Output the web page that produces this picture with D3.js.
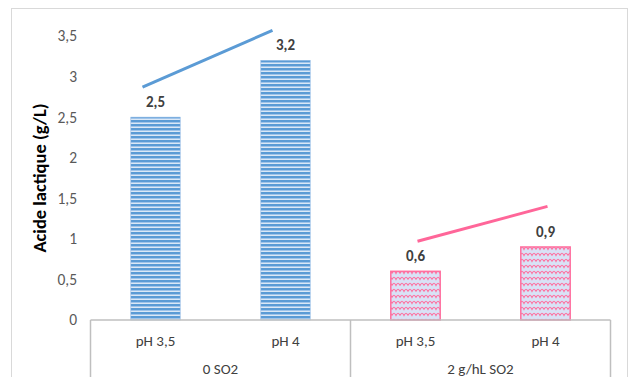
<!DOCTYPE html>
<html><head><meta charset="utf-8">
<script src="https://cdn.jsdelivr.net/npm/d3@7"></script>
<style>html,body{margin:0;padding:0;background:#fff;}svg{display:block;font-family:Carlito,Calibri,Lato,"Open Sans",sans-serif;}</style>
</head><body><svg id="c" width="630" height="377"></svg>
<script>
const groups = ["0 SO2", "2 g/hL SO2"];
const phLabels = ["pH 3,5", "pH 4"];
const values = [[2.5, 3.2], [0.6, 0.9]];
const valueLabels = [["2,5", "3,2"], ["0,6", "0,9"]];
const yTicks = [0, 0.5, 1, 1.5, 2, 2.5, 3, 3.5];
const yTickLabels = ["0", "0,5", "1", "1,5", "2", "2,5", "3", "3,5"];
const yTitle = "Acide lactique (g/L)";
// hand-drawn trend strokes above each group: start/end values
const trendStart = [2.87, 0.97];
const trendEnd = [3.57, 1.40];
const trendColors = ["#5b9bd5", "#ff6699"];

(function () {
const svg = d3.select("#c");
const W = 630, H = 377;
const pLeft = 90.5, pRight = 610.5, pTop = 36, pBottom = 320;

svg.append("rect").attr("x", 11.5).attr("y", 8.5).attr("width", 616).attr("height", 380)
  .attr("fill", "none").attr("stroke", "#d9d9d9").attr("stroke-width", 1);

const defs = svg.append("defs");
const p1 = defs.append("pattern").attr("id", "stripes").attr("patternUnits", "userSpaceOnUse")
  .attr("width", 8).attr("height", 4);
p1.append("rect").attr("width", 8).attr("height", 4).attr("fill", "#dbe8f6");
p1.append("rect").attr("y", 0).attr("width", 8).attr("height", 2).attr("fill", "#5b9bd5");
p1.append("rect").attr("y", 2).attr("width", 8).attr("height", 1).attr("fill", "#9fc4ea");
const p2 = defs.append("pattern").attr("id", "waves").attr("patternUnits", "userSpaceOnUse")
  .attr("width", 8).attr("height", 6);
p2.append("rect").attr("width", 8).attr("height", 6).attr("fill", "#d9e2f6");
p2.append("path").attr("d", "M0,3.5 C1.5,0.5 2.5,0.5 4,3.5 C5.5,0.5 6.5,0.5 8,3.5")
  .attr("fill", "none").attr("stroke", "#ff6f9f").attr("stroke-width", 1.1);

const ids = [];
groups.forEach((g, gi) => phLabels.forEach((p, pi) => ids.push(gi + "|" + pi)));
const x = d3.scaleBand().domain(ids).range([pLeft, pRight]).paddingInner(0.62).paddingOuter(0.31);
const y = d3.scaleLinear().domain([0, 3.5]).range([pBottom, pTop]);

const yAxis = d3.axisLeft(y).tickValues(yTicks).tickFormat((d, i) => yTickLabels[i]).tickSize(0).tickPadding(0);
const ya = svg.append("g").attr("transform", "translate(77,0)").call(yAxis);
ya.select(".domain").remove();
ya.selectAll("text").attr("fill", "#595959").attr("font-size", "15.5px").attr("font-family", "Carlito,Calibri,Lato,sans-serif");

svg.append("text").attr("transform", `translate(46,178) rotate(-90)`)
  .attr("text-anchor", "middle").attr("font-weight", "bold").attr("font-size", "18.5px")
  .attr("fill", "#000").text(yTitle);

const data = [];
groups.forEach((g, gi) => phLabels.forEach((p, pi) => data.push({id: gi + "|" + pi, gi, pi, v: values[gi][pi], lab: valueLabels[gi][pi]})));
svg.selectAll("rect.bar").data(data).enter().append("rect").attr("class", "bar")
  .attr("x", d => x(d.id)).attr("width", x.bandwidth())
  .attr("y", d => y(d.v)).attr("height", d => y(0) - y(d.v))
  .attr("fill", d => d.gi === 0 ? "url(#stripes)" : "url(#waves)")
  .attr("stroke", d => d.gi === 0 ? "#8fb8e4" : "#ff6f9f")
  .attr("stroke-width", d => d.gi === 0 ? 0.6 : 1.5);

svg.selectAll("text.val").data(data).enter().append("text").attr("class", "val")
  .attr("x", d => x(d.id) + x.bandwidth() / 2).attr("y", d => y(d.v) - 10)
  .attr("text-anchor", "middle").attr("font-weight", "bold").attr("font-size", "15px")
  .attr("fill", "#404040").text(d => d.lab);

const xOff = [[-13, -13], [2, 2]];
groups.forEach((g, gi) => {
  const x0 = x(gi + "|0") + x.bandwidth() / 2 + xOff[gi][0];
  const x1 = x(gi + "|1") + x.bandwidth() / 2 + xOff[gi][1];
  svg.append("line").attr("x1", x0).attr("y1", y(trendStart[gi])).attr("x2", x1).attr("y2", y(trendEnd[gi]))
    .attr("stroke", trendColors[gi]).attr("stroke-width", 3);
});

const axisColor = "#bfbfbf";
const ax = svg.append("g");
ax.append("line").attr("x1", pLeft).attr("x2", pRight).attr("y1", pBottom).attr("y2", pBottom)
  .attr("stroke", axisColor).attr("stroke-width", 1.5);
const dividers = [pLeft, (x(ids[1]) + x.bandwidth() + x(ids[2])) / 2, pRight];
dividers.forEach(dx => ax.append("line").attr("x1", dx).attr("x2", dx).attr("y1", pBottom).attr("y2", H + 5)
  .attr("stroke", axisColor).attr("stroke-width", 1.5));
ax.selectAll("text.cat").data(data).enter().append("text").attr("class", "cat")
  .attr("x", d => x(d.id) + x.bandwidth() / 2).attr("y", 346)
  .attr("text-anchor", "middle").attr("font-size", "15px").attr("fill", "#404040")
  .text(d => phLabels[d.pi]);
ax.selectAll("text.grp").data(groups).enter().append("text").attr("class", "grp")
  .attr("x", (g, gi) => (dividers[gi] + dividers[gi + 1]) / 2).attr("y", 374)
  .attr("text-anchor", "middle").attr("font-size", "15px").attr("fill", "#404040")
  .text(g => g);
})();
</script></body></html>
